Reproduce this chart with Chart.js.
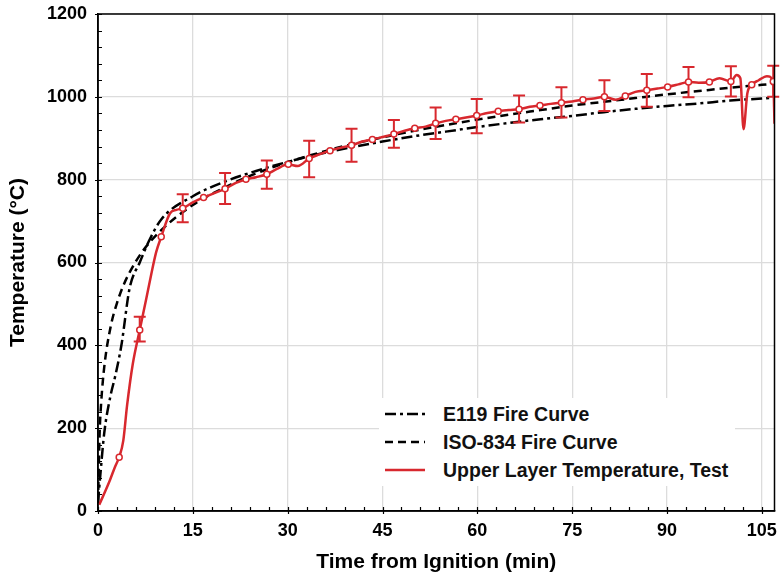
<!DOCTYPE html>
<html>
<head>
<meta charset="utf-8">
<script src="https://cdn.jsdelivr.net/npm/chart.js@4.4.1/dist/chart.umd.min.js"></script>
<style>
html, body { margin: 0; padding: 0; background: #fff; }
#wrap { position: relative; width: 780px; height: 578px; }
#legend { position: absolute; left: 379px; top: 398px; width: 356px; height: 88px; background: #fff;
  font: bold 19.5px "Liberation Sans", Arial, sans-serif; color: #111; }
.row { position: absolute; left: 0; height: 28px; display: flex; align-items: center; white-space: nowrap; }
.row svg { margin-left: 6px; margin-right: 18px; }
</style>
</head>
<body>
<div id="wrap">
  <canvas id="chart" width="780" height="578"></canvas>
  <div id="legend"></div>
</div>
<script>
// tick labels
const xTicks = [0, 15, 30, 45, 60, 75, 90, 105];
const yTicks = [0, 200, 400, 600, 800, 1000, 1200];

// E119 standard curve
const e119Time = [0, 0.3, 1, 2, 2.7, 3.7, 5, 6.6, 8, 10, 15, 20, 25, 30, 35, 40, 45, 50, 55, 60, 65, 70, 75, 80, 85, 90, 95, 100, 105, 107];
const e119Temp = [20, 75, 190, 280, 324, 400, 538, 600, 650, 704, 760, 795, 821, 843, 862, 878, 892, 905, 916, 927, 937, 946, 954, 963, 971, 978, 984, 991, 996, 998];

// ISO-834 curve
const isoTime = [0, 0.25, 0.5, 1, 2, 3, 4, 5, 7, 10, 15, 20, 25, 30, 35, 40, 45, 50, 55, 60, 65, 70, 75, 80, 85, 90, 95, 100, 105, 107];
const isoTemp = [20, 185, 261, 349, 445, 502, 544, 576, 626, 678, 739, 781, 815, 842, 865, 885, 902, 918, 932, 945, 957, 968, 979, 988, 997, 1006, 1014, 1022, 1029, 1032];

// test: upper layer temperature
const testTime = [0.2, 1.9, 2.7, 3.35, 4, 4.6, 5.5, 6.6, 7.6, 8.4, 9.2, 10, 11.4, 12.4, 13.4, 15, 16.7, 18.5, 20.1, 21.8,
  23.4, 25, 26.7, 28.3, 30.1, 31.6, 33.4, 35, 36.7, 38.4, 40.1, 41.8, 43.4, 45, 46.8, 48.5, 50.1, 51.8, 53.4, 55,
  56.6, 58.2, 59.9, 61.6, 63.3, 65, 66.6, 68.3, 69.9, 71.6, 73.3, 75, 76.7, 78.4, 80.1, 81.9, 83.4, 85, 86.8, 88.5,
  90.1, 91.8, 93.4, 95, 96.7, 98.3, 100.1, 101, 101.6, 102.1, 102.7, 103.4, 104.5, 105.8, 106.8, 107];
const testTemp = [15, 75, 107, 130, 170, 255, 355, 437, 510, 570, 625, 662, 719, 727, 731, 745, 757, 768, 778, 792,
  801, 806, 813, 826, 837, 833, 851, 861, 870, 877, 883, 892, 897, 903, 910, 918, 924, 928, 936, 942,
  946, 950, 955, 961, 965, 968, 970, 976, 979, 983, 986, 989, 993, 996, 1000, 993, 1002, 1012, 1016, 1020,
  1024, 1030, 1036, 1034, 1036, 1045, 1037, 1053, 1045, 922, 1008, 1029, 1040, 1050, 1037, 935];

// open-circle markers and error bars (null = no bar)
const markTime = [3.35, 6.6, 10, 13.4, 16.7, 20.1, 23.4, 26.7, 30.1, 33.4, 36.7, 40.1, 43.4, 46.8, 50.1, 53.4,
  56.6, 59.9, 63.3, 66.6, 69.9, 73.3, 76.7, 80.1, 83.4, 86.8, 90.1, 93.4, 96.7, 100.1, 103.4, 106.8];
const markTemp = [130, 437, 662, 731, 757, 778, 801, 813, 837, 851, 870, 883, 897, 910, 924, 936,
  946, 955, 965, 970, 979, 986, 993, 1000, 1002, 1016, 1024, 1036, 1036, 1037, 1029, 1037];
const errLow = [null, 409, null, 697, null, 741, null, 778, null, 806, null, 843, null, 877, null, 898,
  null, 912, null, 938, null, 950, null, 966, null, 976, null, 999, null, 1001, null, 1000];
const errHigh = [null, 469, null, 765, null, 816, null, 846, null, 894, null, 923, null, 944, null, 974,
  null, 995, null, 1003, null, 1023, null, 1040, null, 1055, null, 1072, null, 1074, null, 1075];

const red = '#d8282e';
const fontFam = '"Liberation Sans", Arial, sans-serif';

function pairs(xs, ys) {
  return xs.map((x, i) => ({ x: x, y: ys[i] }));
}

// ticks, frame and error bars
const extras = {
  id: 'extras',
  afterDatasetDraw(chart, args) {
    if (args.index !== 2) return;
    const { ctx, scales: { x, y } } = chart;
    ctx.save();
    ctx.strokeStyle = red;
    ctx.lineWidth = 2;
    markTime.forEach((t, i) => {
      if (errLow[i] == null) return;
      const px = x.getPixelForValue(t);
      const lo = y.getPixelForValue(errLow[i]);
      const hi = y.getPixelForValue(errHigh[i]);
      ctx.beginPath();
      ctx.moveTo(px, lo); ctx.lineTo(px, hi);
      ctx.moveTo(px - 6, lo); ctx.lineTo(px + 6, lo);
      ctx.moveTo(px - 6, hi); ctx.lineTo(px + 6, hi);
      ctx.stroke();
    });
    ctx.restore();
  },
  afterDraw(chart) {
    const { ctx, chartArea: a, scales: { x, y } } = chart;
    ctx.save();
    ctx.strokeStyle = '#000';
    ctx.lineWidth = 1.2;
    ctx.beginPath();
    for (let v = 0; v <= x.max; v += 3) {
      const px = Math.round(x.getPixelForValue(v)) + 0.5;
      ctx.moveTo(px, a.bottom + (v % 15 === 0 ? 3 : 0));
      ctx.lineTo(px, a.bottom - 4);
    }
    for (let v = 0; v <= y.max; v += 40) {
      const py = Math.round(y.getPixelForValue(v)) + 0.5;
      ctx.moveTo(a.left - (v % 200 === 0 ? 3 : 0), py);
      ctx.lineTo(a.left + 4, py);
    }
    ctx.stroke();
    ctx.lineWidth = 1.5;
    ctx.strokeRect(a.left, a.top, a.right - a.left, a.bottom - a.top);
    ctx.restore();
  }
};

const chart = new Chart(document.getElementById('chart'), {
  type: 'line',
  data: {
    datasets: [
      { label: 'E119 Fire Curve', data: pairs(e119Time, e119Temp), borderColor: '#000', borderWidth: 2.5,
        borderDash: [11, 4, 3, 4], pointRadius: 0, cubicInterpolationMode: 'monotone', order: 3 },
      { label: 'ISO-834 Fire Curve', data: pairs(isoTime, isoTemp), borderColor: '#000', borderWidth: 2.5,
        borderDash: [8, 5], pointRadius: 0, cubicInterpolationMode: 'monotone', order: 2 },
      { label: 'Upper Layer Temperature, Test', data: pairs(testTime, testTemp), borderColor: red, borderWidth: 2.5,
        pointRadius: 0, cubicInterpolationMode: 'monotone', order: 1 },
      { label: '', data: pairs(markTime, markTemp), showLine: false, pointRadius: 3, pointBorderWidth: 1.5,
        pointBackgroundColor: '#fff', pointBorderColor: red, order: 0 }
    ]
  },
  options: {
    responsive: false,
    animation: false,
    layout: { padding: { top: 14, right: 3, left: 0, bottom: 0 } },
    plugins: { legend: { display: false }, tooltip: { enabled: false } },
    scales: {
      x: {
        type: 'linear', min: 0, max: 107,
        afterBuildTicks: s => { s.ticks = xTicks.map(v => ({ value: v })); },
        afterFit: s => { s.height = 67; s.paddingLeft = 0; s.paddingRight = 0; },
        ticks: { color: '#000', padding: 9, maxRotation: 0, autoSkip: false, font: { family: fontFam, size: 18, weight: 'bold' } },
        grid: { color: '#dcdcdc', lineWidth: 1.3, drawTicks: false },
        border: { color: '#000', width: 1.5 },
        title: { display: true, text: 'Time from Ignition (min)', color: '#000', padding: { top: 4, bottom: 3 },
          font: { family: fontFam, size: 21, weight: 'bold' } }
      },
      y: {
        min: 0, max: 1200,
        afterBuildTicks: s => { s.ticks = yTicks.map(v => ({ value: v })); },
        afterFit: s => { s.width = 98; s.paddingTop = 0; s.paddingBottom = 0; },
        ticks: { color: '#000', padding: 11, callback: v => String(v), font: { family: fontFam, size: 18, weight: 'bold' } },
        grid: { color: '#dcdcdc', lineWidth: 1.3, drawTicks: false },
        border: { color: '#000', width: 1.5 },
        title: { display: true, text: 'Temperature (°C)', color: '#000', padding: { top: 6, bottom: 6 },
          font: { family: fontFam, size: 21, weight: 'bold' } }
      }
    }
  },
  plugins: [extras]
});

// legend inside the plot, built from the datasets
const legend = document.getElementById('legend');
chart.data.datasets.slice(0, 3).forEach((ds, i) => {
  const row = document.createElement('div');
  row.className = 'row';
  row.style.top = (2 + i * 28) + 'px';
  const dash = ds.borderDash ? ds.borderDash.join(' ') : 'none';
  row.innerHTML = '<svg width="40" height="6"><line x1="0" y1="3" x2="40" y2="3" stroke="' + ds.borderColor +
    '" stroke-width="2.5" stroke-dasharray="' + dash + '"/></svg><span>' + ds.label + '</span>';
  legend.appendChild(row);
});
</script>
</body>
</html>
